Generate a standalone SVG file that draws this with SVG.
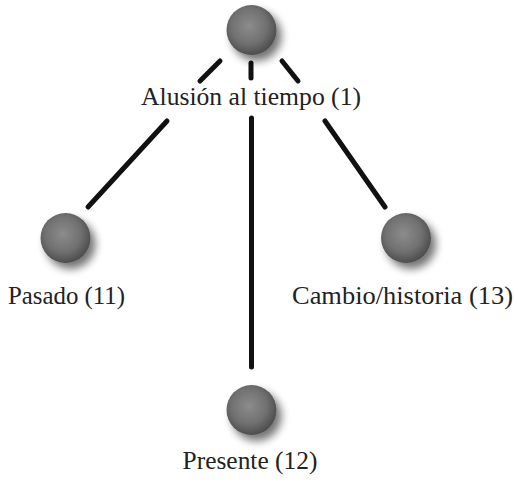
<svg xmlns="http://www.w3.org/2000/svg" width="514" height="480" viewBox="0 0 514 480">
<defs>
<radialGradient id="sph" cx="0.45" cy="0.42" r="0.6">
<stop offset="0" stop-color="#8c8c8c"/>
<stop offset="0.6" stop-color="#707070"/>
<stop offset="1" stop-color="#4a4a4a"/>
</radialGradient>
<filter id="sh" x="-50%" y="-50%" width="200%" height="200%">
<feGaussianBlur in="SourceAlpha" stdDeviation="4"/>
<feOffset dx="5" dy="6" result="b"/>
<feComponentTransfer><feFuncA type="linear" slope="0.55"/></feComponentTransfer>
<feMerge><feMergeNode/><feMergeNode in="SourceGraphic"/></feMerge>
</filter>
</defs>
<style>
.ball{fill:url(#sph);filter:url(#sh)}
.lbl{font-family:"Liberation Serif","DejaVu Serif",serif;font-size:26px;fill:#222;text-anchor:middle}
.con line{stroke:#111;stroke-width:5;stroke-linecap:round}
</style>
<rect width="514" height="480" fill="#fff"/>
<g class="con">
<line x1="220" y1="61" x2="200" y2="81"/>
<line x1="251" y1="63" x2="251" y2="78"/>
<line x1="282" y1="61" x2="298" y2="81"/>
<line x1="167" y1="121" x2="88" y2="207"/>
<line x1="251.5" y1="118" x2="251.5" y2="367"/>
<line x1="325" y1="121" x2="385" y2="207"/>
</g>
<g id="n1"><circle class="ball" cx="251.5" cy="30" r="25"/><text class="lbl" x="251" y="105" textLength="220" lengthAdjust="spacingAndGlyphs">Alusión al tiempo (1)</text></g>
<g id="n2"><circle class="ball" cx="65.5" cy="238" r="25"/><text class="lbl" x="66.5" y="304" textLength="117" lengthAdjust="spacingAndGlyphs">Pasado (11)</text></g>
<g id="n3"><circle class="ball" cx="406" cy="238" r="25"/><text class="lbl" x="402.5" y="304" textLength="221" lengthAdjust="spacingAndGlyphs">Cambio/historia (13)</text></g>
<g id="n4"><circle class="ball" cx="251.5" cy="410" r="25"/><text class="lbl" x="250" y="469" textLength="135" lengthAdjust="spacingAndGlyphs">Presente (12)</text></g>
</svg>
